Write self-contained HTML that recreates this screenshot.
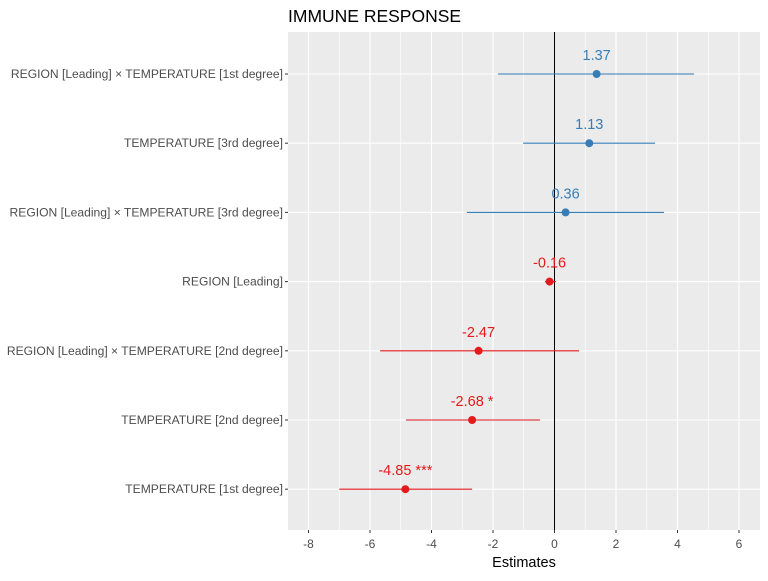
<!DOCTYPE html>
<html><head><meta charset="utf-8"><style>
body{margin:0;background:#fff;font-family:"Liberation Sans",sans-serif;}
svg text{font-family:"Liberation Sans",sans-serif;}
</style></head><body>
<svg id="c" width="768" height="576"></svg>
<script>
const terms=["REGION [Leading] × TEMPERATURE [1st degree]","TEMPERATURE [3rd degree]","REGION [Leading] × TEMPERATURE [3rd degree]","REGION [Leading]","REGION [Leading] × TEMPERATURE [2nd degree]","TEMPERATURE [2nd degree]","TEMPERATURE [1st degree]"];
const estimates=[1.37,1.13,0.36,-0.16,-2.47,-2.68,-4.85];
const ciLow=[-1.84,-1.02,-2.85,-0.31,-5.67,-4.83,-7.0];
const ciHigh=[4.54,3.27,3.56,0.05,0.80,-0.47,-2.68];
const labels=["1.37","1.13","0.36","-0.16","-2.47","-2.68 *","-4.85 ***"];
const xTicks=[-8,-6,-4,-2,0,2,4,6];
const S="http://www.w3.org/2000/svg",svg=document.getElementById('c');
const L=288,R=760,T=32,B=530;
const x=v=>554.5+v*30.75;
const y=i=>74+i*69.2;
function el(t,a,txt){const e=document.createElementNS(S,t);for(const k in a)e.setAttribute(k,a[k]);if(txt!=null)e.textContent=txt;svg.appendChild(e);return e;}
let p=el('rect',{x:L,y:T,width:R-L,height:B-T,fill:'#ebebeb'});


for(let v=-9;v<=7;v+=2){const g=el('line',{x1:x(v),x2:x(v),y1:T,y2:B,stroke:'#fff','stroke-width':0.6});

}
xTicks.forEach(v=>{const g=el('line',{x1:x(v),x2:x(v),y1:T,y2:B,stroke:'#fff','stroke-width':1.1});


el('line',{x1:x(v),x2:x(v),y1:B,y2:B+3,stroke:'#333'});
const t=el('text',{x:x(v),y:B+18,'text-anchor':'middle','font-size':12,fill:'#4d4d4d'},String(v));

});
terms.forEach((n,i)=>{const g=el('line',{x1:L,x2:R,y1:y(i),y2:y(i),stroke:'#fff','stroke-width':1.1});


el('line',{x1:L-3,x2:L,y1:y(i),y2:y(i),stroke:'#333'});
const t=el('text',{x:L-5,y:y(i)+4,'text-anchor':'end','font-size':12.1,fill:'#4d4d4d'},n);

});
const z=el('line',{x1:x(0),x2:x(0),y1:T,y2:B,stroke:'#000','stroke-width':1});


estimates.forEach((v,i)=>{const c=v>0?'#377eb8':'#e41a1c';
const l=el('line',{x1:x(ciLow[i]),x2:x(ciHigh[i]),y1:y(i),y2:y(i),stroke:c,'stroke-width':1.1});


const d=el('circle',{cx:x(v),cy:y(i),r:4,fill:c});


const t=el('text',{x:x(v),y:y(i)-14,'text-anchor':'middle','font-size':14.5,fill:c},labels[i]);

});
const ti=el('text',{x:288,y:22,'font-size':17.5,fill:'#000'},'IMMUNE RESPONSE');


const xa=el('text',{x:524,y:567,'text-anchor':'middle','font-size':14.5,fill:'#000'},'Estimates');


</script>
</body></html>
